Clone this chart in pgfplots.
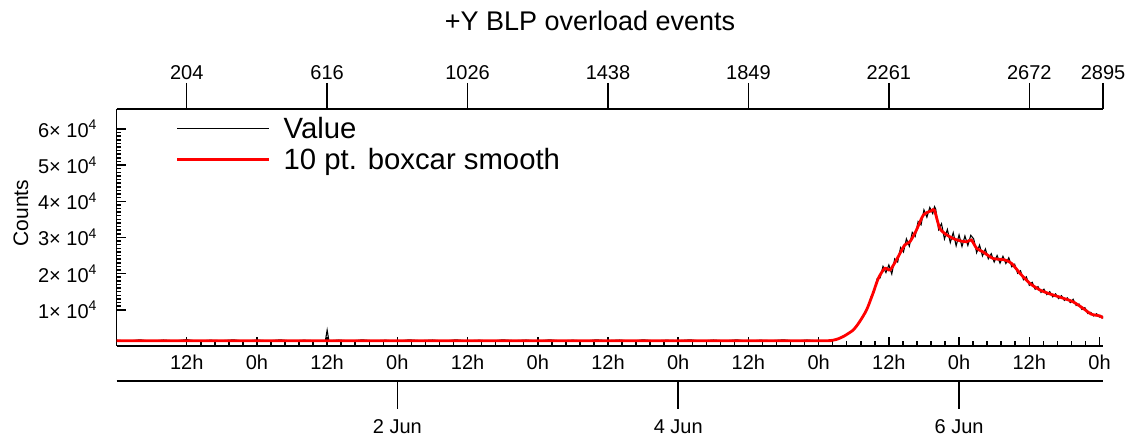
\documentclass[border=0pt]{standalone}
\usepackage{pgfplots}
\pgfplotsset{compat=1.18}
\usepackage{fontspec}
\setmainfont{Liberation Sans}
\newcommand{\tfont}{\fontsize{20}{24}\selectfont}
\begin{document}
\begin{tikzpicture}[x=1pt,y=1pt]
\useasboundingbox (0,0) rectangle (1137,441);
\pgfplotsset{
  common/.style={
    at={(116.5pt,95pt)}, anchor=south west,
    width=986.5pt, height=237pt, scale only axis,
    xmin=0, xmax=168.6,
    axis line style={-, line width=1.6pt},
    every tick/.style={black, line width=1.5pt},
    tick label style={font=\tfont},
    /pgf/number format/assume math mode=true,
  }
}
% main axis
\begin{axis}[common,
  ymin=0, ymax=65500,
  axis x line*=bottom, axis y line*=left,
  tick align=inside,
  major tick length=9pt, minor tick length=4.5pt,
  xtick={12,24,...,168},
  xticklabels={12h,0h,12h,0h,12h,0h,12h,0h,12h,0h,12h,0h,12h,0h},
  minor x tick num=4,
  ytick={10000,20000,30000,40000,50000,60000},
  yticklabels={1× 10\textsuperscript{4},2× 10\textsuperscript{4},3× 10\textsuperscript{4},4× 10\textsuperscript{4},5× 10\textsuperscript{4},6× 10\textsuperscript{4}},
  minor y tick num=9,
  scaled y ticks=false,
  xticklabel style={yshift=-5pt},
  yticklabel style={xshift=-16pt},
  legend style={draw=none, fill=none, at={(0.06,0.975)}, anchor=north west,
    font=\fontsize{29.3}{31}\selectfont, inner sep=0pt, row sep=4pt,
    nodes={inner sep=2pt},
    /tikz/every odd column/.append style={column sep=11pt}},
  legend cell align=left,
  legend image code/.code={\draw[#1] (0pt,0pt) -- (92pt,0pt);},
]
\addplot[black, line width=1.1pt] coordinates {
(0,1600)(2,1350)(4,1700)(6,1300)(8,1650)(10,1400)(12,1750)(14,1300)(16,1600)(18,1450)
(20,1700)(22,1300)(24,1650)(26,1400)(28,1700)(30,1350)(32,1600)(34,1450)(35.7,1500)(36,4400)(36.3,1400)
(38,1650)(40,1350)(42,1700)(44,1400)(46,1600)(48,1300)(50,1700)(52,1450)(54,1650)(56,1350)
(58,1700)(60,1400)(62,1600)(64,1300)(66,1700)(68,1450)(70,1650)(72,1350)(74,1700)(76,1400)
(78,1600)(80,1350)(82,1700)(84,1450)(86,1650)(88,1300)(90,1700)(92,1400)(94,1600)(96,1450)
(98,1700)(100,1350)(102,1650)(104,1400)(106,1700)(108,1300)(110,1600)(112,1450)(114,1700)(116,1350)
(118,1650)(120,1400)(121,1500)
(122.0,1500)(122.5,1550)(123.0,1900)(123.5,2050)(124.0,2600)(124.5,2800)(125.0,3500)(125.5,3900)
(126.0,4700)(126.5,5500)(127.0,6900)(127.5,7800)(128.0,9700)(128.5,11000)(129.0,13800)(129.5,15000)
(130.0,18600)(130.5,18800)(131.0,22000)(131.5,20300)(132.0,22400)(132.5,19900)(133.0,24100)(133.5,23200)
(134.0,27200)(134.5,26000)(135.0,29600)(135.5,27600)(136.0,31400)(136.5,30300)(137.0,34400)(137.5,33500)
(138.0,37600)(138.5,35600)(139.0,38300)(139.5,36600)(139.8,38500)(140.0,37900)(140.5,32200)(141.0,33800)(141.5,29600)
(142.0,32200)(142.5,28600)(143.0,31300)(143.5,27700)(144.0,30700)(144.5,27500)(145.0,30400)(145.5,27800)
(146.0,30600)(146.5,29600)(147.0,25800)(147.5,27900)(148.0,24900)(148.5,26800)(149.0,24100)(149.5,25500)
(150.0,23200)(150.5,25000)(151.0,22900)(151.5,24800)(152.0,22800)(152.5,24400)(153.0,21900)(153.5,22600)
(154.0,20100)(154.5,20800)(155.0,18300)(155.5,19100)(156.0,16800)(156.5,17600)(157.0,15700)(157.5,16400)
(158.0,14800)(158.5,15700)(159.0,14200)(159.5,15000)(160.0,13600)(160.5,14400)(161.0,13100)(161.5,13900)
(162.0,12600)(162.5,13300)(163.0,12000)(163.5,12900)(164.0,11200)(164.5,11600)(165.0,10100)(165.5,10600)
(166.0,9000)(166.5,9300)(167.0,8300)(167.5,8900)(168.0,8000)(168.5,8200)(168.6,7600)
};
\addlegendentry{Value}
\addplot[red, line width=2.8pt, smooth, tension=0.4] coordinates {
(0,1450)(60,1450)(119,1450)(120,1450)(121,1450)(122,1500)(123,1800)(124.2,2600)(125.9,4400)(127.0,6700)(128.2,10000)
(129.3,14600)(130.2,18700)(131.3,21500)(132.2,21000)(133.3,23800)(134.7,27900)(135.6,28800)
(136.7,32000)(137.9,36200)(139.3,37400)(139.8,37500)(140.7,32500)(141.9,30700)(143.0,29700)
(144.1,29100)(145.3,28800)(146.1,29300)(147.0,27000)(148.1,26000)(149.8,24200)(151.8,23800)
(153.0,22800)(154.4,20100)(156.1,17300)(157.8,15500)(159.5,14400)(161.8,13200)(163.5,12200)
(165.2,10400)(166.6,8800)(168.1,8300)(168.6,7700)
};
\addlegendentry{10 pt. boxcar smooth}
\end{axis}
% top axis (point index)
\begin{axis}[common,
  ymin=0, ymax=1,
  axis x line*=top, axis y line=none,
  tick align=outside, major tick length=26pt,
  xtick={12,36,60,84,108,132,156,168.6},
  xticklabels={204,616,1026,1438,1849,2261,2672,2895},
]
\addplot[draw=none] coordinates {(0,0)};
\end{axis}
% date axis
\begin{axis}[common,
  at={(116.5pt,60pt)}, height=1pt,
  ymin=0, ymax=1,
  axis x line*=bottom, axis y line=none,
  tick align=outside, major tick length=28pt,
  xtick={48,96,144},
  xticklabels={2 Jun,4 Jun,6 Jun},
  xticklabel style={yshift=-7pt},
]
\addplot[draw=none] coordinates {(0,0)};
\end{axis}
\node[font=\fontsize{27}{30}\selectfont] at (590,420) {+Y BLP overload events};
\node[font=\fontsize{21}{24}\selectfont, rotate=90] at (21,228) {Counts};
\end{tikzpicture}
\end{document}
